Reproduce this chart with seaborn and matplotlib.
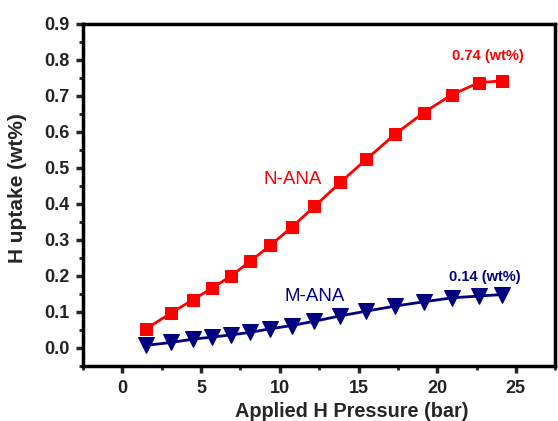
import matplotlib
matplotlib.use("Agg")
import matplotlib.pyplot as plt
import seaborn as sns
import pandas as pd
from matplotlib.ticker import MultipleLocator

pressure = [1.5, 3.1, 4.45, 5.7, 6.9, 8.1, 9.4, 10.75, 12.2, 13.85, 15.5, 17.3, 19.15, 20.95, 22.65, 24.1]
n_ana = [0.053, 0.097, 0.133, 0.166, 0.200, 0.240, 0.285, 0.335, 0.393, 0.460, 0.524, 0.593, 0.654, 0.704, 0.737, 0.742]
m_ana = [0.007, 0.015, 0.024, 0.030, 0.036, 0.043, 0.053, 0.062, 0.074, 0.089, 0.102, 0.116, 0.128, 0.139, 0.144, 0.148]
x_ticks = [0, 5, 10, 15, 20, 25]
y_ticks = [0.0, 0.1, 0.2, 0.3, 0.4, 0.5, 0.6, 0.7, 0.8, 0.9]

sns.set_style("ticks")
plt.rcParams['font.family'] = ['Liberation Sans', 'DejaVu Sans']

RED = "#ff0000"
NAVY = "#000080"

df = pd.DataFrame({"P": pressure, "N": n_ana, "M": m_ana})

fig = plt.figure(figsize=(5.58, 4.21), dpi=100)
ax = fig.add_axes([0.149, 0.131, 0.846, 0.812])

sns.lineplot(data=df, x="P", y="N", ax=ax, color=RED, marker="s", markersize=8.5,
             markeredgecolor=RED, linewidth=2)
sns.lineplot(data=df, x="P", y="M", ax=ax, color=NAVY, marker="v", markersize=11,
             markeredgecolor=NAVY, linewidth=2)

ax.set_xlim(-2.5, 27.5)
ax.set_ylim(-0.05, 0.9)
ax.set_xticks(x_ticks)
ax.set_yticks(y_ticks)
ax.set_yticklabels([f"{v:.1f}" for v in y_ticks])
ax.xaxis.set_minor_locator(MultipleLocator(2.5))
ax.yaxis.set_minor_locator(MultipleLocator(0.05))

for s in ax.spines.values():
    s.set_linewidth(2.5)
    s.set_color("black")
ax.tick_params(axis="both", which="major", direction="out", length=5, width=2.5,
               labelsize=13, pad=5)
ax.tick_params(axis="both", which="minor", direction="out", length=3, width=2)
for lbl in ax.get_xticklabels() + ax.get_yticklabels():
    lbl.set_fontweight("bold")
    lbl.set_color("#222222")

ax.set_xlabel("Applied H Pressure (bar)", fontsize=14.3, fontweight="bold")
ax.set_ylabel("H uptake (wt%)", fontsize=15, fontweight="bold")
ax.xaxis.set_label_coords(0.568, -0.105)
ax.yaxis.set_label_coords(-0.118, 0.52)

ax.text(10.8, 0.468, "N-ANA", color=RED, fontsize=13.5, ha="center", va="center")
ax.text(12.2, 0.144, "M-ANA", color=NAVY, fontsize=13.5, ha="center", va="center")
ax.text(23.2, 0.81, "0.74 (wt%)", color=RED, fontsize=10.5, fontweight="bold", ha="center", va="center")
ax.text(23.0, 0.197, "0.14 (wt%)", color=NAVY, fontsize=10.5, fontweight="bold", ha="center", va="center")

fig.savefig("out.png", dpi=100)
